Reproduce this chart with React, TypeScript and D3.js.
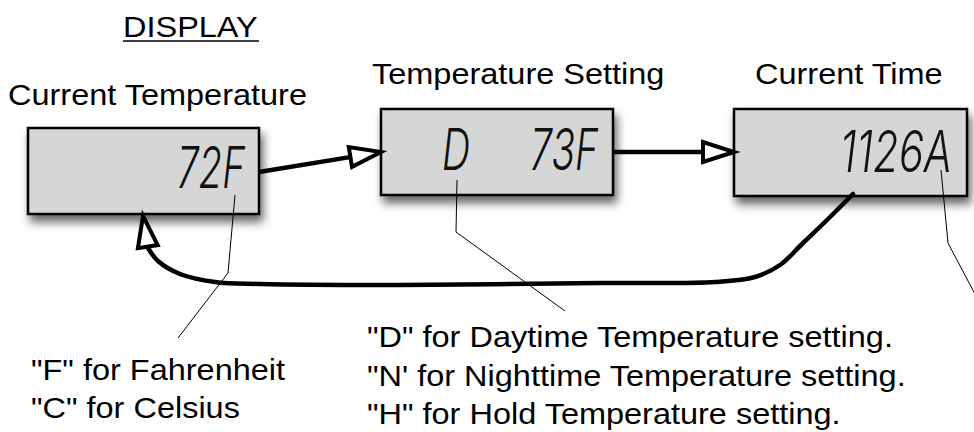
import React from 'react';
import * as d3 from 'd3';

const W = 974;
const H = 432;
const FONT = "'Liberation Sans', Arial, Helvetica, sans-serif";
const LCD_FONT = "Inter, 'DejaVu Sans', sans-serif";
// the reference is stretched a bit horizontally
const SX = 1.083;

const heading = { text: 'DISPLAY', x: 123, y: 37 };

const titles = [
  { text: 'Current Temperature', x: 8, y: 105 },
  { text: 'Temperature Setting', x: 372, y: 84 },
  { text: 'Current Time', x: 755, y: 84 }
];

const boxes = [
  { x: 28, y: 128, w: 231, h: 86 },
  { x: 381, y: 109, w: 232, h: 86 },
  { x: 734, y: 109, w: 233, h: 87 }
];

// LCD readouts: left, baseline, width
const readouts = [
  { text: '72F', x: 177, y: 188, w: 68 },
  { text: 'D', x: 442, y: 170, w: 28 },
  { text: '73F', x: 530, y: 170, w: 68 },
  { text: '1126A', x: 840, y: 172, w: 112 }
];

const notes = [
  { text: '"F" for Fahrenheit', x: 31, y: 380 },
  { text: '"C" for Celsius', x: 31, y: 418 },
  { text: '"D" for Daytime Temperature setting.', x: 367, y: 347 },
  { text: "\"N' for Nighttime Temperature setting.", x: 367, y: 386 },
  { text: '"H" for Hold Temperature setting.', x: 367, y: 424 }
];

const leaders: [number, number][][] = [
  [[235, 195], [228, 273], [178, 338]],
  [[457, 180], [456, 232], [565, 311]],
  [[941, 170], [948, 243], [976, 296]]
];

const straightArrows: [number, number][][] = [
  [[259, 172], [381, 152]],
  [[613, 152], [734, 152]]
];

const returnCurve: [number, number][] = [
  [853, 194], [827, 220], [803, 243], [780, 265], [755, 277], [715, 282],
  [600, 283], [400, 285], [260, 284], [215, 282], [180, 274], [158, 261], [148, 248]
];
const returnTip: [number, number] = [143, 216];

const line = d3.line<[number, number]>();
const curve = d3.line<[number, number]>().curve(d3.curveCatmullRom.alpha(0.5));

function Head({ from, to }: { from: [number, number]; to: [number, number] }) {
  const len = 31;
  const half = 10;
  const a = Math.atan2(to[1] - from[1], to[0] - from[0]);
  const bx = to[0] - len * Math.cos(a);
  const by = to[1] - len * Math.sin(a);
  const px = -Math.sin(a) * half;
  const py = Math.cos(a) * half;
  const pts: [number, number][] = [[to[0], to[1]], [bx + px, by + py], [bx - px, by - py]];
  return (
    <path d={line(pts)! + 'Z'} fill="#fff" stroke="#000" strokeWidth={4} strokeLinejoin="miter" />
  );
}

function shaft(from: [number, number], to: [number, number]): [number, number][] {
  const a = Math.atan2(to[1] - from[1], to[0] - from[0]);
  return [from, [to[0] - 30 * Math.cos(a), to[1] - 30 * Math.sin(a)]];
}

export default function App() {
  return (
    <div style={{ position: 'absolute', left: 0, top: 0 }}>
      <svg width={W} height={H} style={{ display: 'block', background: '#fff' }}>
        <defs>
          <filter id="shadow" x="-20%" y="-30%" width="150%" height="180%">
            <feDropShadow dx={3} dy={7} stdDeviation={5} floodColor="#000" floodOpacity={0.6} />
          </filter>
        </defs>

        {/* heading */}
        <g transform={`translate(${heading.x},${heading.y}) scale(${SX},1)`}>
          <text fontFamily={FONT} fontSize={30} fill="#000">{heading.text}</text>
        </g>
        <line x1={heading.x} x2={heading.x + 136} y1={heading.y + 4} y2={heading.y + 4} stroke="#000" strokeWidth={1.5} />

        {titles.map(t => (
          <g key={t.text} transform={`translate(${t.x},${t.y}) scale(${SX},1)`}>
            <text fontFamily={FONT} fontSize={30} fill="#000">{t.text}</text>
          </g>
        ))}

        {/* display boxes */}
        {boxes.map((b, i) => (
          <rect key={i} x={b.x} y={b.y} width={b.w} height={b.h} fill="#d6d6d6" stroke="#000" strokeWidth={2.5} filter="url(#shadow)" />
        ))}

        {readouts.map(r => (
          <text key={r.text} x={r.x} y={r.y} fontFamily={LCD_FONT} fontWeight={300} fontStyle="italic"
            fontSize={58} fill="#111" textLength={r.w} lengthAdjust="spacingAndGlyphs">{r.text}</text>
        ))}

        {/* leader lines */}
        {leaders.map((pts, i) => (
          <path key={i} d={line(pts)!} fill="none" stroke="#000" strokeWidth={1} />
        ))}

        {/* forward arrows */}
        {straightArrows.map((pts, i) => (
          <g key={i}>
            <path d={line(shaft(pts[0], pts[1]))!} fill="none" stroke="#000" strokeWidth={4.5} />
            <Head from={pts[0]} to={pts[1]} />
          </g>
        ))}

        {/* return arrow */}
        <path d={curve(returnCurve)!} fill="none" stroke="#000" strokeWidth={4.5} strokeLinecap="round" />
        <Head from={returnCurve[returnCurve.length - 1]} to={returnTip} />

        {notes.map(n => (
          <g key={n.text} transform={`translate(${n.x},${n.y}) scale(${SX},1)`}>
            <text fontFamily={FONT} fontSize={30} fill="#000">{n.text}</text>
          </g>
        ))}
      </svg>
    </div>
  );
}
